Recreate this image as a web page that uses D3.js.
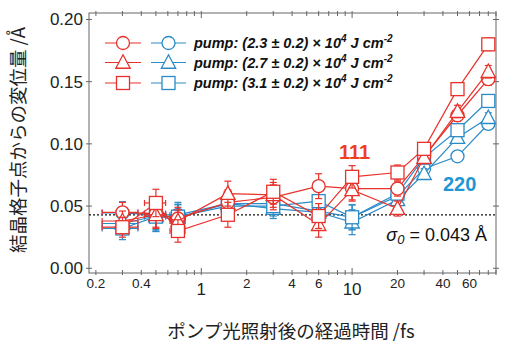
<!DOCTYPE html>
<html><head><meta charset="utf-8">
<script src="https://cdn.jsdelivr.net/npm/d3@7"></script>
<style>
html,body{margin:0;padding:0;background:#fff;}
svg{display:block;}
text{font-family:"Liberation Sans",Arial,Helvetica,sans-serif;}
</style></head>
<body>
<script>
// ---- data ----
const times = [0.3, 0.5, 0.7, 1.5, 3, 6, 10, 20, 30, 50, 80];
const timeErr = 0.08;
const red23 = [0.045, 0.044, 0.040, 0.053, 0.057, 0.066, 0.064, 0.064, 0.090, 0.123, 0.152];
const red27 = [0.038, 0.043, 0.038, 0.060, 0.059, 0.035, 0.063, 0.048, 0.089, 0.126, 0.158];
const red31 = [0.033, 0.0525, 0.030, 0.043, 0.0615, 0.042, 0.0735, 0.077, 0.096, 0.144, 0.180];
const blue23 = [0.0445, 0.043, 0.043, 0.052, 0.052, 0.046, 0.041, 0.058, 0.080, 0.090, 0.116];
const blue27 = [0.036, 0.042, 0.041, 0.052, 0.048, 0.045, 0.037, 0.055, 0.076, 0.105, 0.121];
const blue31 = [0.032, 0.0415, 0.0415, 0.050, 0.050, 0.054, 0.041, 0.060, 0.089, 0.111, 0.1345];
const redErr = [0.008, 0.011, 0.009, 0.010, 0.010, 0.010, 0.009, 0.006, 0.005, 0.005, 0.005];
const blueErr = [0.009, 0.012, 0.010, 0.008, 0.008, 0.008, 0.010, 0.005, 0.004, 0.004, 0.004];
const yTicks = [0.00, 0.05, 0.10, 0.15, 0.20];
const xMinorLabels = [0.2, 0.4, 2, 4, 6, 20, 40, 60];
const xMajorLabels = [1, 10];
const legendLabels = ["2.3", "2.7", "3.1"];
const sigma0 = 0.043;

const RED = "#e8312b", BLUE = "#2b8bc6";
const W = 527, H = 358;
const L = 89, R = 496, T = 13, B = 273;

const svg = d3.select("body").append("svg").attr("width", W).attr("height", H);
const x = d3.scaleLog().domain([0.18, 90]).range([L, R]);
const y = d3.scaleLinear().domain([-0.0038, 0.2052]).range([B, T]);

// frame
svg.append("rect").attr("x", L).attr("y", T).attr("width", R - L).attr("height", B - T)
  .attr("fill", "none").attr("stroke", "#666").attr("stroke-width", 1);

// x ticks (log minor ticks, top and bottom)
const minorT = [];
[0.1, 1, 10].forEach(d => { for (let k = 1; k <= 9; k++) { const v = +(d * k).toPrecision(3); if (v >= 0.18 && v <= 90) minorT.push(v); } });
minorT.forEach(v => {
  const major = (v === 1 || v === 10);
  const len = major ? 5 : 3;
  svg.append("line").attr("x1", x(v)).attr("x2", x(v)).attr("y1", B - len).attr("y2", B + 2)
    .attr("stroke", "#666").attr("stroke-width", 1);
  svg.append("line").attr("x1", x(v)).attr("x2", x(v)).attr("y1", T - 2).attr("y2", T + len)
    .attr("stroke", "#666").attr("stroke-width", 1);
});
svg.selectAll(".xl1").data(xMinorLabels).enter().append("text")
  .attr("x", d => x(d)).attr("y", B + 15).attr("text-anchor", "middle")
  .attr("font-size", 13.5).attr("fill", "#222").text(d => d);
svg.selectAll(".xl2").data(xMajorLabels).enter().append("text")
  .attr("x", d => x(d)).attr("y", B + 22).attr("text-anchor", "middle")
  .attr("font-size", 17).attr("fill", "#222").text(d => d);

// y ticks
yTicks.forEach(v => {
  svg.append("line").attr("x1", L - 3).attr("x2", L + 3).attr("y1", y(v)).attr("y2", y(v)).attr("stroke", "#666");
  svg.append("line").attr("x1", R - 3).attr("x2", R + 3).attr("y1", y(v)).attr("y2", y(v)).attr("stroke", "#666");
});
const yAxis = d3.axisLeft(y).tickValues(yTicks).tickFormat(d3.format(".2f")).tickSize(0).tickPadding(6);
const gy = svg.append("g").attr("transform", `translate(${L},0)`).call(yAxis);
gy.select(".domain").remove();
gy.selectAll("text").attr("font-size", 17).attr("fill", "#222")
  .attr("font-family", '"Liberation Sans",Arial,sans-serif');

// axis titles
svg.append("text").attr("transform", `translate(25,140) rotate(-90)`)
  .attr("text-anchor", "middle").attr("font-size", 18.5).attr("fill", "#222")
  .style("font-family", '"Noto Sans CJK JP",sans-serif').text("結晶格子点からの変位量 /Å");
svg.append("text").attr("x", 291).attr("y", 338).attr("text-anchor", "middle")
  .attr("font-size", 18.5).attr("fill", "#222")
  .style("font-family", '"Noto Sans CJK JP",sans-serif').text("ポンプ光照射後の経過時間 /fs");

// sigma0 dotted line
svg.append("line").attr("x1", L).attr("x2", R).attr("y1", y(sigma0)).attr("y2", y(sigma0))
  .attr("stroke", "#111").attr("stroke-width", 1.3).attr("stroke-dasharray", "2,2");

// symbols
function drawMarker(g, shape, cx, cy, color) {
  if (shape === "circle") {
    g.append("circle").attr("cx", cx).attr("cy", cy).attr("r", 6.5)
      .attr("fill", "#fff").attr("stroke", color).attr("stroke-width", 1.3);
  } else if (shape === "square") {
    g.append("rect").attr("x", cx - 6.5).attr("y", cy - 6.5).attr("width", 13).attr("height", 13)
      .attr("fill", "#fff").attr("stroke", color).attr("stroke-width", 1.3);
  } else {
    const s = 7.2;
    g.append("path").attr("d", `M${cx},${cy - s - 0.5}L${cx + s},${cy + s * 0.8}L${cx - s},${cy + s * 0.8}Z`)
      .attr("fill", "#fff").attr("stroke", color).attr("stroke-width", 1.3);
  }
}

const series = [
  { vals: blue23, err: blueErr, color: BLUE, shape: "circle" },
  { vals: blue27, err: blueErr, color: BLUE, shape: "triangle" },
  { vals: blue31, err: blueErr, color: BLUE, shape: "square" },
  { vals: red23, err: redErr, color: RED, shape: "circle" },
  { vals: red27, err: redErr, color: RED, shape: "triangle" },
  { vals: red31, err: redErr, color: RED, shape: "square" },
];
const line = d3.line().x(d => x(d[0])).y(d => y(d[1]));
series.forEach(s => {
  const g = svg.append("g");
  const pts = times.map((t, i) => [t, s.vals[i], s.err[i]]);
  g.append("path").attr("d", line(pts)).attr("fill", "none").attr("stroke", s.color).attr("stroke-width", 1.2);
  pts.forEach(p => {
    const cx = x(p[0]), cy = y(p[1]);
    const y1 = y(p[1] + p[2]), y2 = y(p[1] - p[2]);
    g.append("line").attr("x1", cx).attr("x2", cx).attr("y1", y1).attr("y2", y2).attr("stroke", s.color).attr("stroke-width", 1.2);
    [y1, y2].forEach(yy => g.append("line").attr("x1", cx - 3.5).attr("x2", cx + 3.5).attr("y1", yy).attr("y2", yy).attr("stroke", s.color).attr("stroke-width", 1.2));
    const xa = x(Math.max(p[0] - timeErr, 0.18)), xb = x(p[0] + timeErr);
    g.append("line").attr("x1", xa).attr("x2", xb).attr("y1", cy).attr("y2", cy).attr("stroke", s.color).attr("stroke-width", 1.2);
    [xa, xb].forEach(xx => g.append("line").attr("x1", xx).attr("x2", xx).attr("y1", cy - 3).attr("y2", cy + 3).attr("stroke", s.color).attr("stroke-width", 1.2));
  });
  pts.forEach(p => drawMarker(g, s.shape, x(p[0]), y(p[1]), s.color));
});

// labels
svg.append("text").attr("x", 339).attr("y", 158.5).attr("font-size", 20).attr("font-weight", "bold")
  .attr("fill", "#ec3f24").text("111");
svg.append("text").attr("x", 443).attr("y", 191).attr("font-size", 20).attr("font-weight", "bold")
  .attr("fill", "#1f97d4").text("220");
const sg = svg.append("text").attr("x", 487).attr("y", 241).attr("text-anchor", "end").attr("font-size", 18).attr("fill", "#111");
sg.append("tspan").attr("font-style", "italic").text("σ");
sg.append("tspan").attr("font-style", "italic").attr("font-size", 13).attr("dy", 3).text("0");
sg.append("tspan").attr("dy", -3).text(" = 0.043 Å");

// legend
const shapes = ["circle", "triangle", "square"];
const legY = [43, 62.5, 83];
legendLabels.forEach((lab, i) => {
  const yy = legY[i];
  const g = svg.append("g");
  g.append("line").attr("x1", 105).attr("x2", 141).attr("y1", yy).attr("y2", yy).attr("stroke", RED).attr("stroke-width", 1.2);
  drawMarker(g, shapes[i], 123, yy, RED);
  g.append("line").attr("x1", 151).attr("x2", 186).attr("y1", yy).attr("y2", yy).attr("stroke", BLUE).attr("stroke-width", 1.2);
  drawMarker(g, shapes[i], 168.5, yy, BLUE);
  const t = g.append("text").attr("x", 194).attr("y", yy + 5).attr("font-size", 14.5)
    .attr("font-weight", "bold").attr("font-style", "italic").attr("fill", "#111");
  t.append("tspan").text(`pump: (${lab} ± 0.2) × 10`);
  t.append("tspan").attr("font-size", 10).attr("dy", -6).text("4");
  t.append("tspan").attr("dy", 6).text(" J cm");
  t.append("tspan").attr("font-size", 10).attr("dy", -6).text("-2");
});
</script>
</body></html>
